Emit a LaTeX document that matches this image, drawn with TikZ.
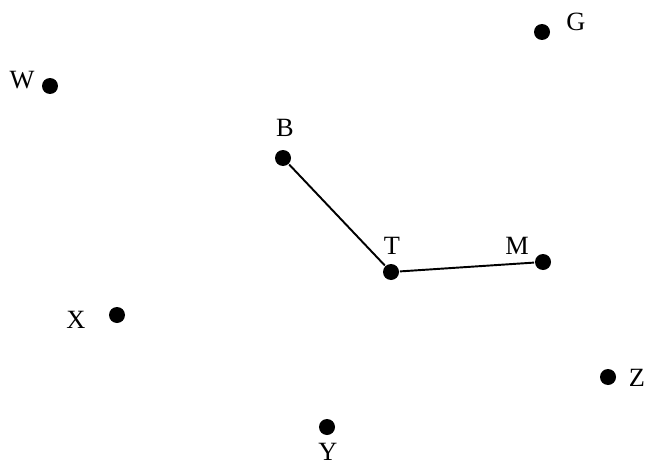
\documentclass[tikz,border=0pt]{standalone}
\usepackage{fontspec}
\setmainfont{Liberation Serif}
\usepackage{tikz}

\begin{document}
\begin{tikzpicture}[x=0.02cm,y=-0.02cm,line width=1.1pt]
  \tikzset{dot/.style={circle,fill=black,inner sep=0pt,minimum size=0.32cm},
    lbl/.style={inner sep=0pt,font=\fontsize{15}{17}\selectfont}}
  \useasboundingbox (0,0) rectangle (648,466);
  % points
  \node[dot] (W) at (50,86) {};
  \node[dot] (G) at (542,32) {};
  \node[dot] (B) at (283,158) {};
  \node[dot] (T) at (391,272) {};
  \node[dot] (M) at (543,262) {};
  \node[dot] (X) at (117,315) {};
  \node[dot] (Z) at (608,377) {};
  \node[dot] (Y) at (327,427) {};
  % names
  \node[lbl] (Wl) at (22,80) {W};
  \node[lbl] (Gl) at (576,22) {G};
  \node[lbl] (Bl) at (285,128) {B};
  \node[lbl] (Tl) at (392,246) {T};
  \node[lbl] (Ml) at (517,246) {M};
  \node[lbl] (Xl) at (76,320) {X};
  \node[lbl] (Zl) at (637,378) {Z};
  \node[lbl] (Yl) at (328,452) {Y};
  % path
  \draw (B) -- (T) -- (M);
\end{tikzpicture}
\end{document}
